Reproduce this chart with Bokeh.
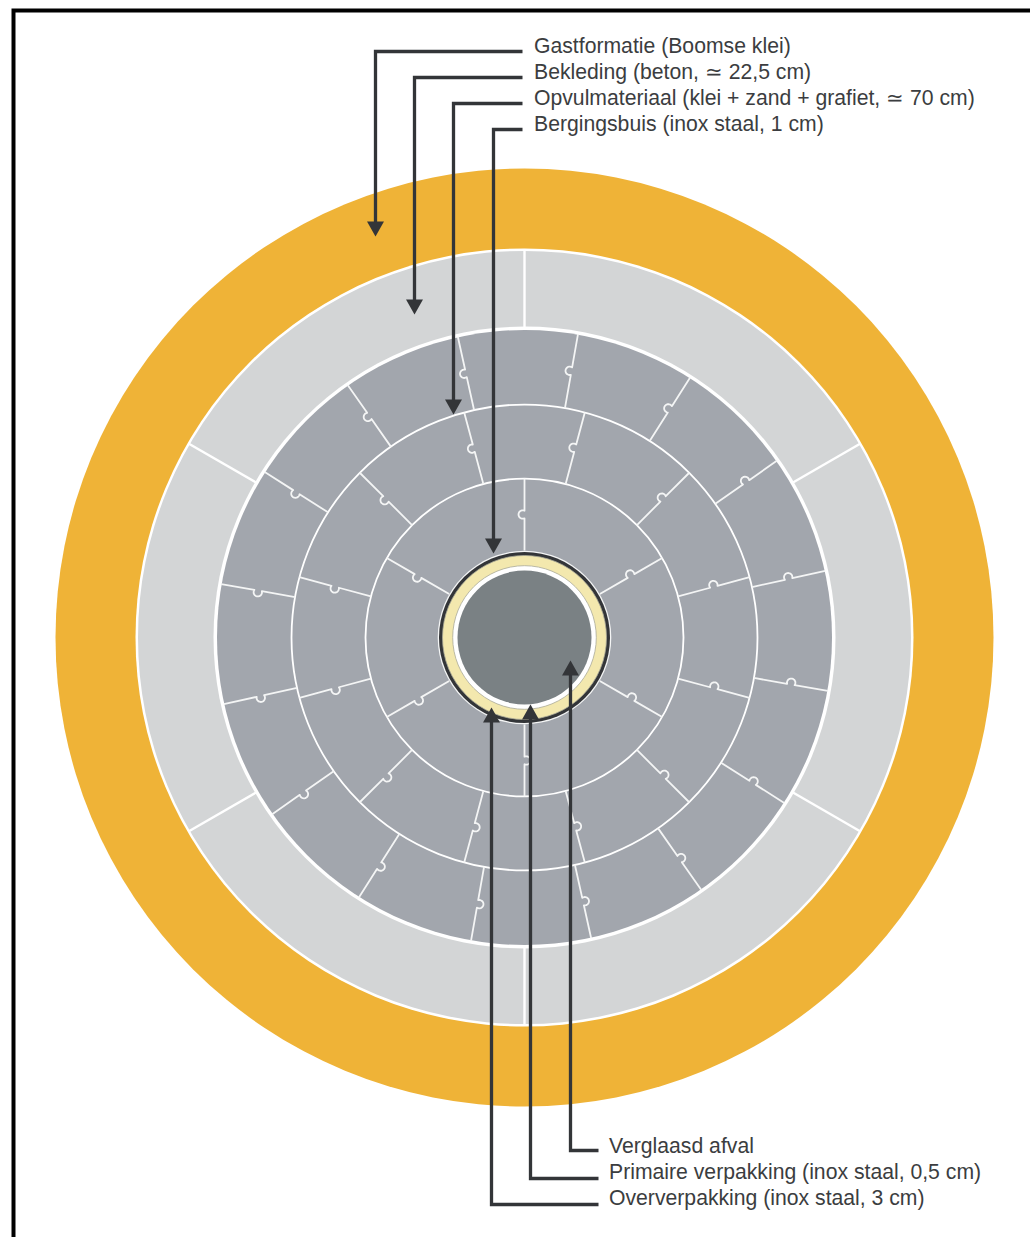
import numpy as np
from bokeh.plotting import figure
from bokeh.embed import file_html
from bokeh.resources import INLINE
from bokeh.models import Range1d
from bokeh.core.properties import value

# ---- data (page pixels) ----
CX, CY = 524.0, 637.0
disc_radii = [469, 389, 386.5, 311, 307.5, 86.8, 85.5, 82, 71.8, 67.0]
disc_fill = ["#EFB337", "#FFFFFF", "#D3D5D6", "#FFFFFF", "#A2A6AD",
             "#F4F5F5", "#333538", "#F3E8AE", "#FFFFFF", "#7A8184"]
yellow_outline = "#A9A998"

ring_lines = [233, 159]
concrete_joints = [0, 60, 120, 180, 240, 300]
outer_joints = [10 + 22.5 * k for k in range(16)]
middle_joints = [15 + 30 * k for k in range(12)]
inner_joints = [0, 60, 120, 180, 240, 300]

top_labels = ["Gastformatie (Boomse klei)", "Bekleding (beton, \u2243 22,5 cm)",
              "Opvulmateriaal (klei + zand + grafiet, \u2243 70 cm)",
              "Bergingsbuis (inox staal, 1 cm)"]
top_base = [45, 71, 97, 123]
top_line_y = [51, 77, 103, 129]
top_arrow_x = [375, 414, 453, 493]
top_tip_y = [236, 314, 414, 553]

bot_labels = ["Verglaasd afval", "Primaire verpakking (inox staal, 0,5 cm)",
              "Oververpakking (inox staal, 3 cm)"]
bot_base = [1145, 1171, 1197]
bot_line_y = [1150, 1178, 1204]
bot_arrow_x = [570, 530, 491]
bot_tip_y = [660, 704, 707]

TEXT = "#3B3D40"
DARK = "#333538"

W, H = 1030, 1237
p = figure(width=W, height=H, output_backend="svg", toolbar_location=None,
           x_range=Range1d(0, W), y_range=Range1d(H, 0),
           x_axis_type=None, y_axis_type=None, min_border=0,
           outline_line_color=None, background_fill_color="white",
           border_fill_color="white")
p.grid.visible = False


def polar(r, deg):
    a = np.radians(deg)
    return CX + r * np.sin(a), CY - r * np.cos(a)


def joint(r0, r1, deg, R=4.2, h=1.8):
    """Radial seam from r0 to r1 with the omega-shaped key half way."""
    rm = (r0 + r1) / 2
    half = np.sqrt(R * R - h * h)
    ts = np.linspace(np.arctan2(-h, -half), np.arctan2(-h, half) - 2 * np.pi, 15)
    u = np.concatenate([[r0], rm + R * np.cos(ts), [r1]])
    v = np.concatenate([[0], h + R * np.sin(ts), [0]])
    a = np.radians(deg)
    ex, ey = np.sin(a), -np.cos(a)
    nx, ny = -np.cos(a), -np.sin(a)
    return CX + u * ex + v * nx, CY + u * ey + v * ny


p.circle(x=[CX] * len(disc_radii), y=[CY] * len(disc_radii), radius=disc_radii,
         fill_color=disc_fill, line_color=None)
p.circle(x=[CX, CX], y=[CY, CY], radius=[82, 71.8], fill_color=None,
         line_color=yellow_outline, line_width=0.8)
p.circle(x=[CX] * 2, y=[CY] * 2, radius=ring_lines, fill_color=None,
         line_color="white", line_width=1.8)

xs, ys = [], []
for d in concrete_joints:
    x0, y0 = polar(310, d)
    x1, y1 = polar(388, d)
    xs.append([x0, x1]); ys.append([y0, y1])
p.multi_line(xs, ys, line_color="white", line_width=2.4)

xs, ys = [], []
for (r0, r1, angles) in [(233, 308, outer_joints), (159, 233, middle_joints), (87, 159, inner_joints)]:
    for d in angles:
        jx, jy = joint(r0, r1, d)
        xs.append(list(jx)); ys.append(list(jy))
p.multi_line(xs, ys, line_color="#F4F5F5", line_width=1.8, line_join="round")

xs, ys, hx, hy = [], [], [], []
HW, HL = 8.5, 15
for ly, ax, ty in zip(top_line_y, top_arrow_x, top_tip_y):
    xs.append([522, ax, ax]); ys.append([ly, ly, ty - HL + 1])
    hx.append([ax - HW, ax + HW, ax]); hy.append([ty - HL, ty - HL, ty])
for ly, ax, ty in zip(bot_line_y, bot_arrow_x, bot_tip_y):
    xs.append([598, ax, ax]); ys.append([ly, ly, ty + HL - 1])
    hx.append([ax - HW, ax + HW, ax]); hy.append([ty + HL, ty + HL, ty])
p.multi_line(xs, ys, line_color=DARK, line_width=3.3, line_join="miter", line_cap="butt")
p.patches(hx, hy, fill_color=DARK, line_color=None)

p.text(x=[533.5] * 4, y=top_base, text=top_labels, text_font=value("Liberation Sans"),
       text_font_size="21.2px", text_color=TEXT, text_baseline="alphabetic", text_align="left")
p.text(x=[608.5] * 3, y=bot_base, text=bot_labels, text_font=value("Liberation Sans"),
       text_font_size="21.2px", text_color=TEXT, text_baseline="alphabetic", text_align="left")

p.line([13, 13, 1030], [1237, 10, 10], line_color="black", line_width=4, line_join="miter")

open("out.html", "w").write(file_html(p, INLINE))
